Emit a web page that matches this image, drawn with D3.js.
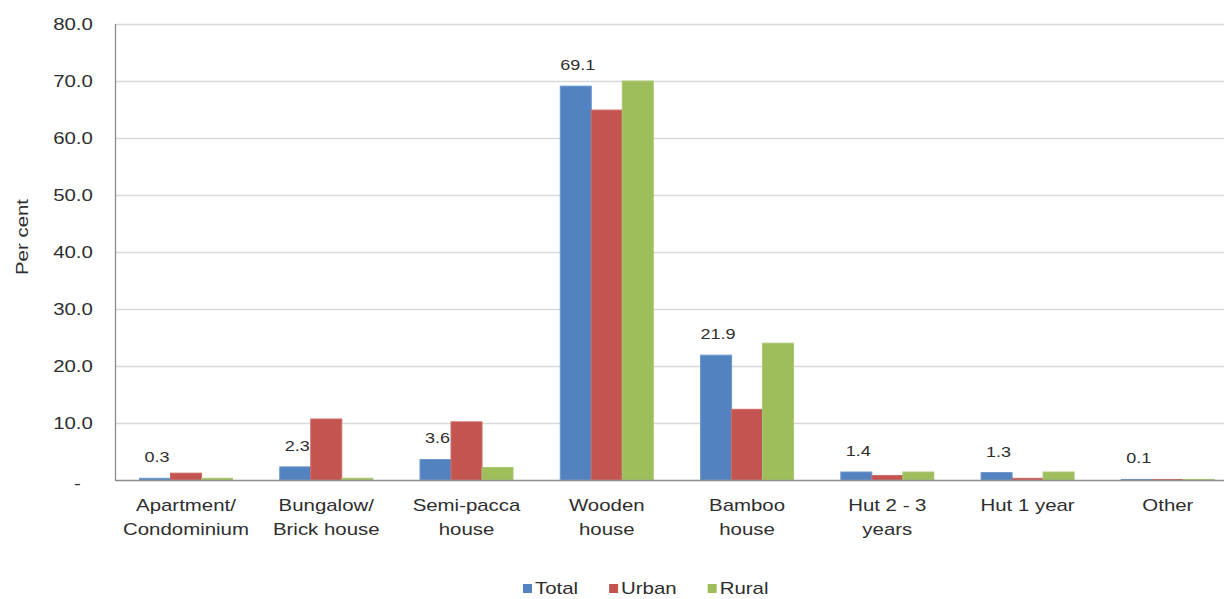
<!DOCTYPE html>
<html>
<head>
<meta charset="utf-8">
<script src="https://cdn.jsdelivr.net/npm/d3@7"></script>
<style>
  html, body { margin: 0; padding: 0; background: #ffffff; }
  svg { display: block; font-family: "Liberation Sans", Arial, sans-serif; }
</style>
</head>
<body>
<script>
// ---- Data ----
const categories = [
  "Apartment/\nCondominium",
  "Bungalow/\nBrick house",
  "Semi-pacca\nhouse",
  "Wooden\nhouse",
  "Bamboo\nhouse",
  "Hut 2 - 3\nyears",
  "Hut 1 year",
  "Other"
];
const seriesNames = ["Total", "Urban", "Rural"];
const total = [0.3, 2.3, 3.6, 69.1, 21.9, 1.4, 1.3, 0.1];
const urban = [1.2, 10.7, 10.2, 64.9, 12.4, 0.8, 0.3, 0.1];
const rural = [0.3, 0.3, 2.2, 70.0, 24.0, 1.4, 1.4, 0.1];
const yTicks = [0, 10, 20, 30, 40, 50, 60, 70, 80];
const yTitle = "Per cent";

// ---- Styles ----
const colors = { Total: "#5283C0", Urban: "#C4544F", Rural: "#9EBE5C" };
const strokes = { Total: "#6a95cb", Urban: "#cc6a67", Rural: "#abc672" };
const textColor = "#2e2e2e";
const stretch = 1.2;

const W = 1224, H = 599;
const svg = d3.select("body").append("svg").attr("width", W).attr("height", H);

const plotLeft = 115.85, plotRight = 1238, plotTop = 24, plotBottom = 480;

const x0 = d3.scaleBand().domain(categories).range([plotLeft, plotRight])
  .paddingInner(0.337).paddingOuter(0.337 / 2);
const x1 = d3.scaleBand().domain(seriesNames).range([0, x0.bandwidth()]);
const y = d3.scaleLinear().domain([0, 80]).range([plotBottom, plotTop]);

const seriesData = { Total: total, Urban: urban, Rural: rural };

// gridlines
svg.append("g").selectAll("line").data(yTicks.filter(d => d > 0)).join("line")
  .attr("x1", plotLeft).attr("x2", plotRight)
  .attr("y1", d => Math.round(y(d)) + 0.5).attr("y2", d => Math.round(y(d)) + 0.5)
  .attr("stroke", "#d9d9d9").attr("stroke-width", 1.3);

function drawBars(name) {
  const vals = seriesData[name];
  svg.append("g").selectAll("rect").data(categories.map((c, i) => ({ c, v: vals[i] }))).join("rect")
    .attr("x", d => x0(d.c) + x1(name))
    .attr("width", x1.bandwidth())
    .attr("y", d => y(d.v))
    .attr("height", d => y(0) - y(d.v))
    .attr("fill", colors[name])
    .attr("stroke", strokes[name]).attr("stroke-width", 1);
}

drawBars("Total");
// data labels for Total (drawn before Urban bars, as in the reference)
svg.append("g").selectAll("text").data(categories.map((c, i) => ({ c, v: total[i] }))).join("text")
  .attr("x", d => x0(d.c) + x1("Total") + x1.bandwidth() / 2 + 2)
  .attr("y", d => y(d.v) - 16)
  .attr("text-anchor", "middle")
  .attr("font-size", 15)
  .attr("fill", textColor)
  .text(d => d3.format(".1f")(d.v));
drawBars("Urban");
drawBars("Rural");

// axis lines
svg.append("line").attr("x1", Math.round(plotLeft) - 0.5).attr("x2", Math.round(plotLeft) - 0.5)
  .attr("y1", plotTop).attr("y2", Math.round(y(0)) + 0.5)
  .attr("stroke", "#8c8c8c").attr("stroke-width", 1.3);
svg.append("line").attr("x1", Math.round(plotLeft) - 1).attr("x2", plotRight)
  .attr("y1", Math.round(y(0)) + 0.5).attr("y2", Math.round(y(0)) + 0.5)
  .attr("stroke", "#8c8c8c").attr("stroke-width", 1.3);

// y axis
const yAxis = d3.axisLeft(y).tickValues(yTicks).tickSize(0).tickPadding(23)
  .tickFormat(d => d === 0 ? "-" : d3.format(".1f")(d));
const gy = svg.append("g").attr("transform", `translate(${plotLeft},0)`).call(yAxis);
gy.select(".domain").remove();
gy.selectAll("text").attr("font-size", 17).attr("fill", textColor)
  .attr("font-family", "'Liberation Sans', Arial, sans-serif");
gy.selectAll(".tick").filter(d => d === 0).select("text").attr("x", -35).attr("dy", "0.5em");

// y title
svg.append("text")
  .attr("transform", "translate(28,237) rotate(-90)")
  .attr("text-anchor", "middle")
  .attr("font-size", 17).attr("fill", textColor)
  .text(yTitle);

// category labels
const gx = svg.append("g");
categories.forEach(c => {
  c.split("\n").forEach((line, i) => {
    gx.append("text")
      .attr("x", x0(c) + x0.bandwidth() / 2)
      .attr("y", 511 + i * 24)
      .attr("text-anchor", "middle")
      .attr("font-size", 17).attr("fill", textColor)
      .text(line);
  });
});

// legend
const lg = svg.append("g");
let lx = 523;
seriesNames.forEach(name => {
  lg.append("rect").attr("x", lx).attr("y", 584).attr("width", 9).attr("height", 9)
    .attr("fill", colors[name]);
  const t = lg.append("text").attr("x", lx + 12).attr("y", 594)
    .attr("font-size", 17).attr("fill", textColor).text(name);
  const len = t.node().getComputedTextLength() * stretch;
  lx = lx + 12 + len + 31;
});

// horizontal stretch of all text to match reference glyph widths
svg.selectAll("text").each(function () {
  const L = this.getComputedTextLength();
  d3.select(this).attr("textLength", L * stretch).attr("lengthAdjust", "spacingAndGlyphs");
});
</script>
</body>
</html>
